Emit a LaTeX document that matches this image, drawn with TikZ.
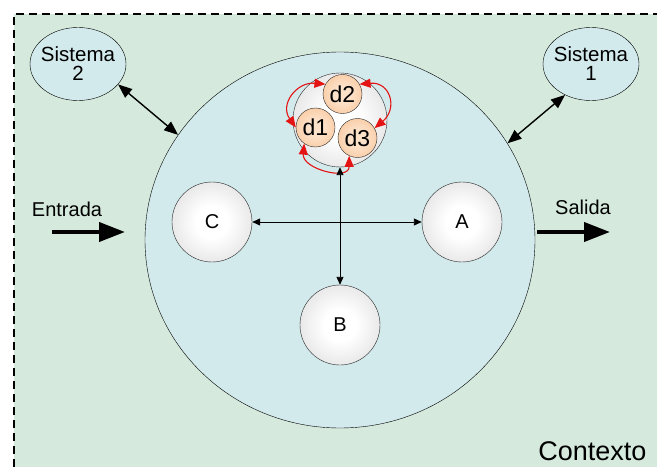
\documentclass[tikz,border=0pt]{standalone}
\usepackage{fontspec}
\setmainfont{Liberation Sans}
\usetikzlibrary{positioning,calc,arrows.meta,shapes.geometric}
\definecolor{fondoContexto}{RGB}{213,234,221}
\definecolor{fondoSistema}{RGB}{211,234,237}
\definecolor{grisBorde}{RGB}{196,196,196}
\definecolor{naranjaClaro}{RGB}{253,226,202}
\definecolor{naranjaBorde}{RGB}{244,176,118}
\definecolor{rojoLazo}{RGB}{228,20,20}
\pgfdeclareradialshading{bolagris}{\pgfpoint{0bp}{0bp}}{color(0bp)=(white); color(10bp)=(white); color(50bp)=(grisBorde)}
\pgfdeclareradialshading{bolanaranja}{\pgfpoint{0bp}{0bp}}{color(0bp)=(naranjaClaro); color(10bp)=(naranjaClaro); color(50bp)=(naranjaBorde)}
\def\ModuloSize{80pt}
\def\DatoSize{39pt}
\tikzset{
  sistema/.style={
    ellipse,
    draw=black,
    fill=fondoSistema,
    inner xsep=-9pt,
    inner ysep=0pt,
    minimum width=96pt,
    minimum height=73pt,
    align=center,
    font=\fontsize{20.5}{19}\selectfont
  },
  modulo/.style={
    circle,
    draw=black!85,
    shading=bolagris,
    minimum size=\ModuloSize,
    font=\fontsize{20}{20}\selectfont
  },
  dato/.style={
    circle,
    draw=black!85,
    shading=bolanaranja,
    inner sep=0pt,
    minimum size=\DatoSize,
    font=\fontsize{23}{23}\selectfont
  },
  enlace/.style={<->,>={Triangle[length=8pt,width=7pt]},line width=0.9pt},
  acople/.style={<->,>={Triangle[length=14pt,width=11pt]},line width=1.4pt},
  flujo/.style={-{Triangle[length=26pt,width=19pt]},line width=4pt},
  lazo/.style={<->,>={Triangle[length=11pt,width=9pt]},draw=rojoLazo,line width=1.1pt},
  rotulo/.style={font=\fontsize{20}{20}\selectfont,anchor=base}
}
\begin{document}
\begin{tikzpicture}[x=1pt,y=1pt]
  \useasboundingbox (0,0) rectangle (657,467);

  % Context area, dashed on the left and top only.
  \fill[fondoContexto] (14,0) rectangle (657,453);
  \draw[line width=1.3pt,dash pattern=on 8pt off 5pt] (14,0) -- (14,453) -- (657,453);

  \node[ellipse,draw=black,fill=fondoSistema,minimum width=390pt,minimum height=376pt] (sys) at (340,227) {};

  \node[sistema] (s2) at (78,403) {Sistema\\2};
  \node[sistema] (s1) at (591,403) {Sistema\\1};

  \node[modulo] (C) at (212,245) {C};
  \node[modulo] (A) at (462,245) {A};
  \node[modulo] (B) at (340,142) {B};

  \node[circle,draw=black!85,shading=bolagris,minimum size=94pt] (grupo) at (340,347) {};
  \node[dato] (d2) at (342.5,373) {d2};
  \node[dato] (d1) at (315.5,339.5) {d1};
  \node[dato] (d3) at (357.5,329) {d3};

  \draw[lazo] (d1.180) to[out=125,in=175,looseness=1.4] (d2.150);
  \draw[lazo] (d2.30) to[out=5,in=40,looseness=1.7] (d3.30);
  \draw[lazo] (d1.235) to[out=265,in=270,looseness=1.4] (d3.245);

  \draw[enlace] (C) -- (A);
  \draw[enlace] (grupo) -- (B);
  \draw[acople] (s2.-27) -- (sys.147);
  \draw[acople] (s1.230) -- (sys.30);

  \node[rotulo] (entrada) at (67,251) {Entrada};
  \node[rotulo] (salida) at (583,252) {Salida};
  \coordinate (entIni) at (52,235);
  \coordinate (entFin) at (125,235);
  \coordinate (salIni) at (537,235);
  \coordinate (salFin) at (610,235);
  \draw[flujo] (entIni) -- (entFin);
  \draw[flujo] (salIni) -- (salFin);

  \node[font=\fontsize{27}{27}\selectfont,anchor=base east] (contexto) at (650,7) {Contexto};
\end{tikzpicture}
\end{document}
